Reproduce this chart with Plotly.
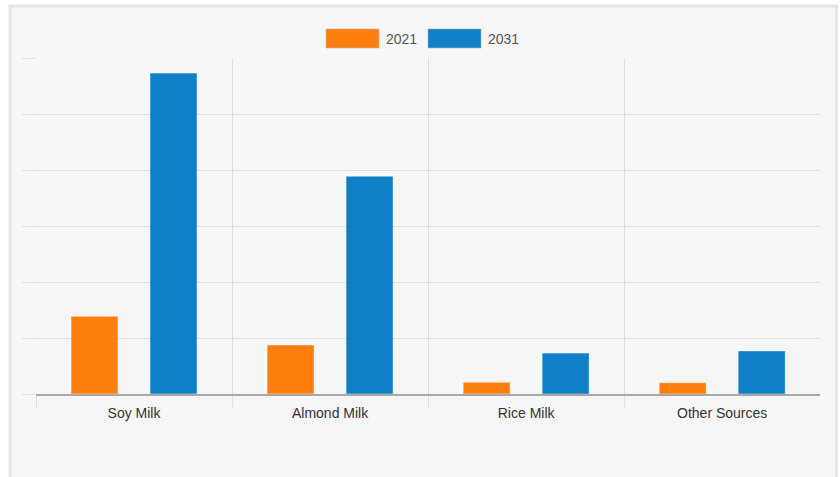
import plotly.graph_objects as go

categories = ["Soy Milk", "Almond Milk", "Rice Milk", "Other Sources"]
series_names = ["2021", "2031"]
values_2021 = [1.39, 0.875, 0.21, 0.20]
values_2031 = [5.73, 3.89, 0.73, 0.77]
colors = ["#ff7f0e", "#0f7fc8"]

fig = go.Figure()
for name, vals, col in zip(series_names, [values_2021, values_2031], colors):
    fig.add_trace(go.Bar(
        x=categories, y=vals, name=name,
        marker=dict(color=col, line=dict(color="rgba(255,255,255,0.45)", width=1)),
        showlegend=False,
    ))

GRID = "#dedede"
shapes = [
    # outer frame
    dict(type="rect", xref="paper", yref="paper", x0=-0.0332, x1=1.021, y0=-0.3, y1=1.1548,
         line=dict(color="#e6e6e6", width=3), fillcolor="#f6f6f6", layer="below"),
]
# manual legend
legend_x = [0.3699, 0.5]
annotations = []
for lx, name, col in zip(legend_x, series_names, colors):
    shapes.append(dict(type="rect", xref="paper", yref="paper", x0=lx, x1=lx + 0.0676,
                       y0=1.0298, y1=1.0863, fillcolor=col,
                       line=dict(color="rgba(180,180,180,0.6)", width=1)))
    annotations.append(dict(xref="paper", yref="paper", x=lx + 0.074, y=1.058, text=name,
                            showarrow=False, xanchor="left", yanchor="middle",
                            font=dict(size=14, color="#555555", family="Liberation Sans, Arial")))

fig.update_layout(
    width=840, height=477,
    margin=dict(l=36, r=20, t=58, b=83),
    paper_bgcolor="white", plot_bgcolor="#f6f6f6",
    barmode="group", bargap=0.194, bargroupgap=0.405,
    shapes=shapes, annotations=annotations,
    font=dict(family="Liberation Sans, Arial", size=14, color="#333333"),
    xaxis=dict(type="category", range=[-0.5, 3.499], tickson="boundaries", ticks="outside",
               ticklen=11, tickcolor=GRID, showgrid=True, gridcolor=GRID,
               showline=True, linecolor="#a8a8a8", linewidth=1.5,
               ticklabelstandoff=5,
               tickfont=dict(size=14, color="#333333")),
    yaxis=dict(range=[0, 6], dtick=1, showgrid=True, gridcolor=GRID, ticks="outside",
               ticklen=13, tickcolor=GRID, showticklabels=False, zeroline=False, showline=False),
)

fig.write_html("out.html")
